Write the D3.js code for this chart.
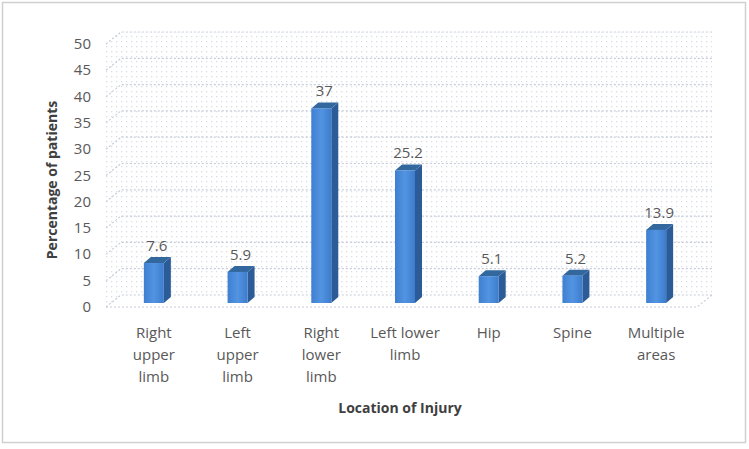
<!DOCTYPE html>
<html>
<head>
<meta charset="utf-8">
<script src="https://cdn.jsdelivr.net/npm/d3@7"></script>
<style>
  html, body { margin: 0; padding: 0; background: #fff; }
  svg { display: block; font-family: "Open Sans", Lato, sans-serif; }
</style>
</head>
<body>
<div id="chart"></div>
<script>
const categories = [
  ["Right", "upper", "limb"],
  ["Left", "upper", "limb"],
  ["Right", "lower", "limb"],
  ["Left lower", "limb"],
  ["Hip"],
  ["Spine"],
  ["Multiple", "areas"]
];
const values = [7.6, 5.9, 37, 25.2, 5.1, 5.2, 13.9];
const valueLabels = ["7.6", "5.9", "37", "25.2", "5.1", "5.2", "13.9"];
const yTicks = [0, 5, 10, 15, 20, 25, 30, 35, 40, 45, 50];

const W = 749, H = 449;
const TEXT = "#595959";
const DEPTH_X = 15, DEPTH_Y = 12;   // wall depth
const BAR_DX = 7, BAR_DY = 6;       // bar depth

const svg = d3.select("#chart").append("svg")
  .attr("width", W).attr("height", H);

const defs = svg.append("defs");
const pat = defs.append("pattern")
  .attr("id", "dots").attr("patternUnits", "userSpaceOnUse")
  .attr("width", 5).attr("height", 5);
pat.append("rect").attr("x", 1).attr("y", 1).attr("width", 1.3).attr("height", 1.3).attr("fill", "#d8dde6");

const grad = defs.append("linearGradient").attr("id", "front")
  .attr("x1", 0).attr("x2", 1).attr("y1", 0).attr("y2", 0);
grad.append("stop").attr("offset", "0%").attr("stop-color", "#3f7fd0");
grad.append("stop").attr("offset", "50%").attr("stop-color", "#5294e2");
grad.append("stop").attr("offset", "100%").attr("stop-color", "#3d7ccc");

// outer frame
svg.append("rect")
  .attr("x", 2.5).attr("y", 2.5).attr("width", W - 6).attr("height", H - 9)
  .attr("fill", "#fff").attr("stroke", "#d0d0d0").attr("stroke-width", 1.5);

const x = d3.scaleBand()
  .domain(d3.range(categories.length))
  .range([113, 699]);

const y = d3.scaleLinear()
  .domain([0, 50])
  .range([307, 44]);

const left = 106, right = 697;

// walls with dotted texture
svg.append("path")
  .attr("d", `M${left},${y(0)} L${left + DEPTH_X},${y(0) - DEPTH_Y} L${left + DEPTH_X},${y(50) - DEPTH_Y} L${left},${y(50)} Z`)
  .attr("fill", "url(#dots)");
svg.append("rect")
  .attr("x", left + DEPTH_X).attr("y", y(50) - DEPTH_Y)
  .attr("width", right - left).attr("height", y(0) - y(50))
  .attr("fill", "url(#dots)");

// gridlines
const grid = svg.append("g").attr("fill", "none").attr("stroke", "#c5ccd8").attr("stroke-width", 1.2).attr("stroke-dasharray", "2 2");
yTicks.forEach(t => {
  grid.append("path")
    .attr("d", `M${left},${y(t)} L${left + DEPTH_X},${y(t) - DEPTH_Y} L${right + DEPTH_X},${y(t) - DEPTH_Y}`);
});
// floor front edge
grid.append("path")
  .attr("d", `M${left},${y(0)} L${right},${y(0)} L${right + DEPTH_X},${y(0) - DEPTH_Y}`);

// y tick labels
svg.append("g").selectAll("text").data(yTicks).join("text")
  .attr("x", 91).attr("y", d => y(d) + 5)
  .attr("text-anchor", "end")
  .attr("font-size", 15).attr("fill", TEXT)
  .text(d => d);

// bars
const bw = 20;
const baseY = y(0) - 4;
const k = (y(0) - y(50)) / 50;
const bars = svg.append("g");
values.forEach((v, i) => {
  const x0 = x(i) + x.bandwidth() / 2 - bw / 2 - 1;
  const x1 = x0 + bw;
  const yt = baseY - v * k;
  const g = bars.append("g");
  // side
  g.append("path")
    .attr("d", `M${x1},${yt} L${x1 + BAR_DX},${yt - BAR_DY} L${x1 + BAR_DX},${baseY - BAR_DY} L${x1},${baseY} Z`)
    .attr("fill", "#2b5c98");
  // top
  g.append("path")
    .attr("d", `M${x0},${yt} L${x0 + BAR_DX},${yt - BAR_DY} L${x1 + BAR_DX},${yt - BAR_DY} L${x1},${yt} Z`)
    .attr("fill", "#33689f");
  // front
  g.append("rect")
    .attr("x", x0).attr("y", yt).attr("width", bw).attr("height", baseY - yt)
    .attr("fill", "url(#front)");
  // value label
  svg.append("text")
    .attr("x", x0 + bw / 2 + 3).attr("y", yt - 12)
    .attr("text-anchor", "middle")
    .attr("font-size", 15).attr("fill", TEXT)
    .text(valueLabels[i]);
});

// category labels
categories.forEach((lines, i) => {
  const t = svg.append("text")
    .attr("text-anchor", "middle")
    .attr("font-size", 15).attr("fill", TEXT);
  lines.forEach((ln, j) => {
    t.append("tspan")
      .attr("x", x(i) + x.bandwidth() / 2 - 1)
      .attr("y", 338 + j * 22)
      .text(ln);
  });
});

// axis titles
svg.append("text")
  .attr("x", 400).attr("y", 413)
  .attr("text-anchor", "middle")
  .attr("font-size", 14).attr("font-weight", "bold").attr("fill", "#404040")
  .text("Location of Injury");

svg.append("text")
  .attr("transform", `translate(57,${180}) rotate(-90)`)
  .attr("text-anchor", "middle")
  .attr("font-size", 14).attr("font-weight", "bold").attr("fill", "#404040")
  .text("Percentage of patients");
</script>
</body>
</html>
